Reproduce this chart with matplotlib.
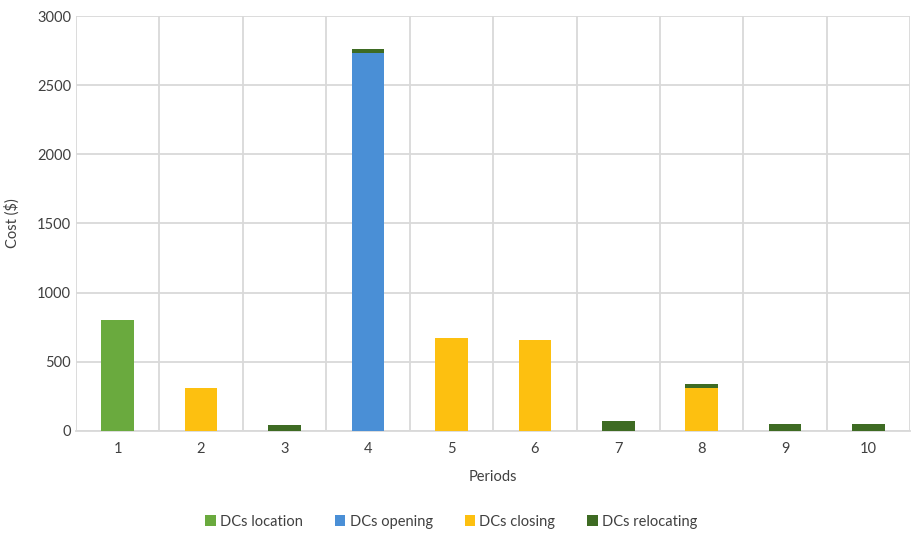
import numpy as np
import matplotlib
matplotlib.use('Agg')
import matplotlib.pyplot as plt

plt.rcParams['font.family'] = ['Lato', 'DejaVu Sans']

# values
periods = ['1', '2', '3', '4', '5', '6', '7', '8', '9', '10']
location = [800, 0, 0, 0, 0, 0, 0, 0, 0, 0]
opening = [0, 0, 0, 2735, 0, 0, 0, 0, 0, 0]
closing = [0, 310, 0, 0, 670, 660, 0, 310, 0, 0]
relocating = [0, 0, 40, 25, 0, 0, 75, 32, 50, 50]

names = ['DCs location', 'DCs opening', 'DCs closing', 'DCs relocating']
colors = ['#6aaa3e', '#4a8fd6', '#fdc010', '#3e6b23']

fig, ax = plt.subplots(figsize=(9.14, 5.34), dpi=100)
fig.subplots_adjust(left=0.083, right=0.996, top=0.97, bottom=0.193)

x = np.arange(len(periods))
bottom = np.zeros(len(periods))
for vals, name, c in zip([location, opening, closing, relocating], names, colors):
    vals = np.array(vals, dtype=float)
    ax.bar(x, vals, 0.39, bottom=bottom, color=c, label=name, zorder=3)
    bottom += vals

ax.set_xlim(-0.5, len(periods) - 0.5)
ax.set_ylim(0, 3000)
ax.set_yticks(range(0, 3001, 500))
ax.set_xticks(x)
ax.set_xticklabels(periods)
ax.set_xticks(np.arange(-0.5, len(periods)), minor=True)

ax.grid(axis='y', color='#d9d9d9', lw=1.3, zorder=0)
ax.grid(axis='x', which='minor', color='#d9d9d9', lw=1.3, zorder=0)
ax.tick_params(axis='both', which='both', length=0, labelsize=10.5, colors='#404040')
ax.tick_params(axis='x', pad=8)
for s in ['top', 'right', 'left']:
    ax.spines[s].set_visible(False)
ax.spines['bottom'].set_color('#d9d9d9')
ax.spines['bottom'].set_linewidth(1.3)

ax.set_xlabel('Periods', fontsize=10.5, color='#404040', labelpad=10)
ax.set_ylabel('Cost ($)', fontsize=10.5, color='#404040', labelpad=12)

ax.legend(loc='upper center', bbox_to_anchor=(0.45, -0.17), ncol=4, frameon=False,
          fontsize=10.5, handlelength=0.7, handleheight=0.7, columnspacing=2.2,
          handletextpad=0.3, labelcolor='#404040')

plt.savefig('out.png', dpi=100)
